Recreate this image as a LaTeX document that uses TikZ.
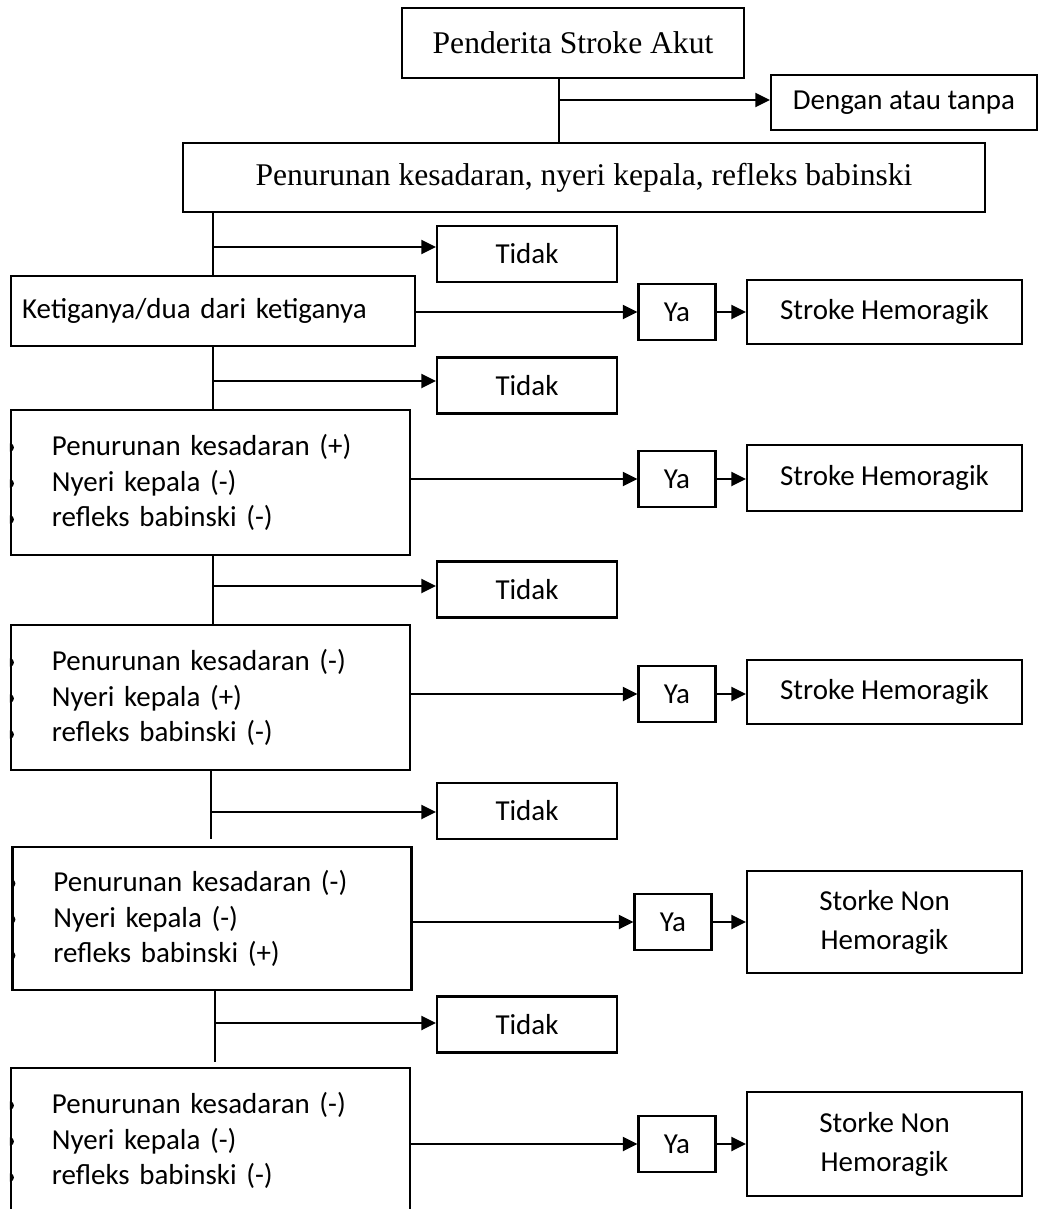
\documentclass[tikz,border=0pt]{standalone}
\usepackage{fontspec}
\setmainfont{Carlito}
\newfontfamily\timesfont{Liberation Serif}
\usepackage{tikz}
\usetikzlibrary{arrows.meta}

\tikzset{
  kotak/.style={draw, line width=0.85pt, inner sep=0pt, align=center, font=\fontsize{11}{13.5}\selectfont},
  serif/.style={font=\timesfont\fontsize{12}{14}\selectfont},
  ukuran/.style 2 args={minimum width=#1*0.38pt, minimum height=#2*0.38pt},
  daftar/.style={align=left, inner xsep=15.6pt, text width=120.5pt},
  dua/.style={font=\fontsize{11}{14.8}\selectfont}
}

\begin{document}
\begin{tikzpicture}[x=0.38pt, y=-0.38pt, line width=0.85pt, >={Triangle[length=5.5pt, width=5.3pt]}]
\useasboundingbox (0,0) rectangle (1039,1209);

% bagian atas
\node[kotak, serif, ukuran={342}{70}] (awal) at (573,43) {Penderita Stroke Akut};
\node[kotak, ukuran={266}{55}] (dengan) at (904,102.5) {Dengan atau tanpa};
\node[kotak, serif, ukuran={802}{69}] (gejala) at (584,177.5) {Penurunan kesadaran, nyeri kepala, refleks babinski};
\coordinate (cab0) at (559,100);
\draw (awal.south -| cab0) -- (gejala.north -| cab0);
\draw[->] (cab0) -- (cab0 -| dengan.west);

% kotak pemeriksaan
\node[kotak, align=left, inner xsep=4.2pt, text width=145pt, ukuran={404}{70}] (tiga) at (213,311) {Ketiganya/dua dari ketiganya};
\node[kotak, daftar, ukuran={399}{145}] (pk) at (210.5,482.5) {Penurunan kesadaran (+)\\Nyeri kepala (-)\\refleks babinski (-)};
\node[kotak, daftar, ukuran={399}{145}] (nk) at (210.5,697.5) {Penurunan kesadaran (-)\\Nyeri kepala (+)\\refleks babinski (-)};
\node[kotak, daftar, ukuran={398}{143}] (rb) at (212,918.5) {Penurunan kesadaran (-)\\Nyeri kepala (-)\\refleks babinski (+)};
\node[kotak, daftar, ukuran={399}{145}] (nol) at (210.5,1140.5) {Penurunan kesadaran (-)\\Nyeri kepala (-)\\refleks babinski (-)};
% titik yang terpotong tepi kotak
\foreach \b in {pk,nk,rb,nol} {
  \begin{scope}
    \clip (\b.north west) rectangle (\b.south east);
    \foreach \dy in {-35,1,37}
      \fill (\b.west) ++(0,\dy) circle (1.6pt);
  \end{scope}
}

% cabang tidak
\foreach \n/\y in {1/254, 2/385.5, 3/589.5, 4/811, 5/1024.5}
  \node[kotak, ukuran={180}{56}] (tidak\n) at (527,\y) {Tidak};
\foreach \n/\x/\y in {1/213/247, 2/213/381, 3/213/586, 4/211/812, 5/215/1023} {
  \coordinate (cab\n) at (\x,\y);
  \draw[->] (cab\n) -- (cab\n -| tidak\n.west);
}
\coordinate (ujung4) at (211,839);
\coordinate (ujung5) at (215,1062);
\draw (gejala.south -| cab1) -- (tiga.north -| cab1);
\draw (tiga.south -| cab2) -- (pk.north -| cab2);
\draw (pk.south -| cab3) -- (nk.north -| cab3);
\draw (nk.south -| ujung4) -- (ujung4);
\draw (rb.south -| ujung5) -- (ujung5);

% hasil
\node[kotak, ukuran={275}{64}] (hasil1) at (884.5,312) {Stroke Hemoragik};
\node[kotak, ukuran={275}{66}] (hasil2) at (884.5,478) {Stroke Hemoragik};
\node[kotak, ukuran={275}{64}] (hasil3) at (884.5,692) {Stroke Hemoragik};
\node[kotak, dua, ukuran={275}{102}] (hasil4) at (884.5,922) {Storke Non\\Hemoragik};
\node[kotak, dua, ukuran={275}{104}] (hasil5) at (884.5,1144) {Storke Non\\Hemoragik};
\foreach \n/\k/\x/\y in {1/tiga/677/312, 2/pk/677/479, 3/nk/677/694, 4/rb/673/922, 5/nol/677/1144} {
  \node[kotak, ukuran={77}{56}] (ya\n) at (\x,\y) {Ya};
  \draw[->] (ya\n -| \k.east) -- (ya\n);
  \draw[->] (ya\n) -- (ya\n -| hasil\n.west);
}
\end{tikzpicture}
\end{document}
